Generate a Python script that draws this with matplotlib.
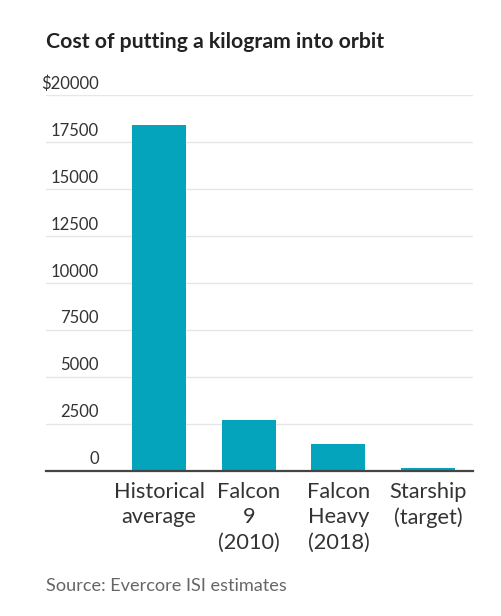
import matplotlib
matplotlib.use("Agg")
import matplotlib.pyplot as plt
import matplotlib.transforms as mtransforms

categories = ["Historical\naverage", "Falcon\n9\n(2010)", "Falcon\nHeavy\n(2018)", "Starship\n(target)"]
values = [18400, 2700, 1400, 130]
yticks = [0, 2500, 5000, 7500, 10000, 12500, 15000, 17500, 20000]
ytick_labels = ["0", "2500", "5000", "7500", "10000", "12500", "15000", "17500", "$20000"]

W, H = 502, 616
fig = plt.figure(figsize=(W / 100, H / 100), dpi=100)
plt.rcParams['font.family'] = ['Lato', 'DejaVu Sans']

# axes in pixel coordinates
left, right = 46, 473
top, bottom = 95.3, 470.7
ax = fig.add_axes([left / W, 1 - bottom / H, (right - left) / W, (bottom - top) / H])

ax.bar(range(len(values)), values, width=0.603, color="#05A4BD", zorder=3)
ax.set_xlim(-1.26, 3.5)
ax.set_ylim(0, 20000)

for s in ["top", "right", "left"]:
    ax.spines[s].set_visible(False)
ax.spines["bottom"].set_color("#444444")
ax.spines["bottom"].set_linewidth(1.6)
ax.spines["bottom"].set_zorder(4)

ax.set_yticks(yticks)
ax.set_yticklabels([])
ax.tick_params(axis="y", length=0)
ax.grid(axis="y", color="#e6e6e6", linewidth=1.0, zorder=0)
ax.tick_params(axis="x", length=0, pad=8)
ax.set_xticks(range(len(categories)))
ax.set_xticklabels(categories, fontsize=15.7, color="#333333", linespacing=1.33)

trans = mtransforms.blended_transform_factory(ax.transAxes, ax.transData)
offset = mtransforms.offset_copy(trans, fig=fig, x=0, y=2.5, units="points")
for v, lab in zip(yticks, ytick_labels):
    ax.text((99 - left) / (right - left), v, lab, transform=offset, ha="right", va="bottom",
            fontsize=12, color="#333333")

fig.text(left / W, 1 - 42 / H, "Cost of putting a kilogram into orbit", fontsize=15.3,
         fontweight="bold", color="#222222", ha="left", va="center")
fig.text(left / W, 1 - 586 / H, "Source: Evercore ISI estimates", fontsize=13.1,
         color="#666666", ha="left", va="center")

fig.savefig("out.png", dpi=100)
